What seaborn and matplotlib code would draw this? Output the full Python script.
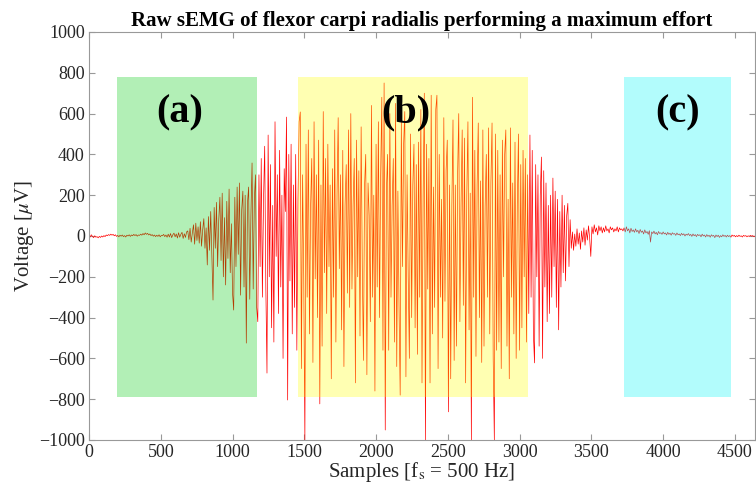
import numpy as np
import matplotlib
matplotlib.use("Agg")
import matplotlib.pyplot as plt
from matplotlib.patches import Rectangle
import seaborn as sns

# ---- signal (one value every 8 samples) ----
step = 8
rest_start = [3, -5, 6, -2, -8, 1, -6, -3, -9, -2,
              -7, 0, -5, 2, -3, 5, 1, 7, 3, 9,
              4, 8, 1, 6, -2, 3, -4, 4, -1, 5,
              -3, 2, -5, 4, 0, 6, -2, 5, 1, 8,
              2, 7, -1, 5, 3, 9, 4, 12, 6, 15,
              8, 13, 5, 10, 2, 7, -1, 5, -3, 4,
              -2, 6, -4, 3, 1, 8, -3, 5, -6, 9,
              -5, 12, -8, 6, 14, -4, 10, -10, 16, -6,
              8, 18, -12, 11, -7, 20]
onset = [25, -18, 38, -30, 15, 55, -40, 63, -22, 45,
         -35, 70, -50, 30, 85, -60, 40, -142, 95, -70,
         120, -90, -314, 140, -60, 165, -150, 80, 190, -120,
         210, -200, 90, -240, 170, -110, 230, -180, 60, -280,
         -363, 190, -150, 240, -90, 260, -290, 130, 220, -250,
         200, -525, 160, 240, -310, 100, 358, -260, 180, 300, -350]
burst = [-420, 300, -150, 380, -300, 180, 440, -250, -672, 495,
         -200, 350, -450, 150, -520, 560, -100, 300, -380, 420,
         -250, 200, -600, 330, 120, 583, -804, 400, -220, 450,
         -480, 250, -350, 400, -560, 180, 560, 608, -650, 300,
         -200, -1000, 450, -300, 520, -480, 150, 380, -620, 560,
         -210, 300, -400, 470, -823, 250, -540, 610, -180, 380,
         -380, 450, -150, 250, -700, 330, -300, 520, -520, 200,
         580, -160, 300, -460, 420, -640, 150, 350, -280, 520,
         -350, 600, -260, 150, 380, -720, 470, -200, 320, -490,
         535, -150, -610, 250, 400, -680, 260, 100, -420, 640,
         -300, 200, -760, 450, -250, 560, -400, 300, 680, -560,
         750, -951, 220, 400, -560, 600, -300, 150, 380, -520,
         650, -640, 220, -350, -780, 560, -150, 450, 610, -690,
         300, -200, -600, 500, -400, 250, 450, -450, 350, -580,
         460, -300, 620, -720, 200, 700, -1000, 450, -260, 380,
         -720, 690, -480, 240, -350, 620, 690, -650, 400, -300,
         180, -500, 580, -320, 320, 470, -862, 250, -700, 150,
         569, -610, 250, -540, 300, 600, -420, 150, 520, -340,
         480, -720, 200, 560, -460, 210, -1000, 680, -300, 420,
         -590, 250, 554, -400, 270, -620, 520, -540, 150, 400,
         -300, 530, -480, 260, 554, -600, -1000, 500, -560, 420,
         -520, 300, -650, 470, -200, 400, 520, -540, 180, -700,
         530, -300, 260, -480, 460, -600, 150, 500, -560, 350,
         -450, 420, -200, 380, -520, 300]
decay = [-380, 495, -300, 420, -480, -622, 350, -200, 300, -540,
         200, 387, -600, 320, -250, 260, -420, 150, -380, 200,
         -300, 284, -150, 220, -350, 180, -460, 120, -250, 200,
         -180, 150, -220, 100, 160, -150, 80,
         -60, 20, -70, 10, -50, 35, -40, 15, -65, 25,
         -30, 40, -45, 30, -20, 50, -10, -100,
         45, 10, 55, 20, 40, 5, 50, 25, 45, 15,
         40, 20, 50, 25, 35, 15, 45, 30, 40, 20,
         35, 25, 45, 20, 40, 30, 35, 25]
rest_end = [40, 20, 45, 25, 35, 15, 38, 22, 30, 18,
            35, 20, 28, 12, 32, 18, 25, 10, 30, 15,
            22, 8, 26, -30, 20, 12, 24, 10, 18, 6,
            22, 12, 16, 8, 20, 10, 15, 5, 18, 8,
            14, 4, 16, 9, 12, 3, 15, 6, 10, 2,
            13, 5, 11, 0, 9, 4, 12, 2, 8, -2,
            10, 1, 7, -3, 8, 2, 6, -4, 9, 0,
            5, -5, 7, -2, 4, -6, 6, -1, 3, -8,
            5, -3, 4, -7, 2, -4, 6, -2, 3, -5,
            4, -3, 2, -6, 5, -1, 3, -4, 2, -3,
            4, -2, 1, -5, 3, -1, 2, -4, 1, -2,
            3, -1, 2, -3, 0]

voltage = np.array(rest_start + onset + burst + decay + rest_end, dtype=float)
samples = np.arange(len(voltage)) * step

# ---- highlighted windows ----
region_labels = ["(a)", "(b)", "(c)"]
region_start = [195, 1458, 3730]
region_end = [1168, 3057, 4472]
region_low = [-790, -790, -790]
region_high = [780, 780, 780]
region_colors = [(0.0, 0.8, 0.05), (1.0, 1.0, 0.0), (0.0, 0.97, 0.97)]
label_x = [630, 2210, 4100]
label_y = [605, 605, 605]

sns.set_style("white")
plt.rcParams["font.family"] = ["Liberation Serif", "DejaVu Serif"]
plt.rcParams["mathtext.fontset"] = "stix"

fig = plt.figure(figsize=(7.56, 4.97), dpi=100)
ax = fig.add_axes([89 / 756, 57 / 497, 666 / 756, 408 / 497])

sns.lineplot(x=samples, y=voltage, color="red", linewidth=0.5,
             estimator=None, ax=ax, zorder=1)

for x0, x1, lo, hi, c in zip(region_start, region_end, region_low,
                             region_high, region_colors):
    ax.add_patch(Rectangle((x0, lo), x1 - x0, hi - lo, facecolor=c,
                           edgecolor="none", alpha=0.3, zorder=2))

for lab, x, y in zip(region_labels, label_x, label_y):
    ax.text(x, y, lab, ha="center", va="center", fontsize=29,
            fontweight="bold", color="black", zorder=3)

ax.set_xlim(0, 4640)
ax.set_ylim(-1000, 1000)
ax.set_xticks(range(0, 4501, 500))
ax.set_yticks(range(-1000, 1001, 200))
ax.tick_params(direction="in", length=4, width=0.8, color="#999999",
               labelsize=13, labelcolor="#262626", top=True, right=True,
               bottom=True, left=True, pad=3)
for s in ax.spines.values():
    s.set_color("#999999")
    s.set_linewidth(0.8)

ax.set_xlabel("Samples [f$_\\mathrm{s}$ = 500 Hz]", fontsize=15,
              color="#262626", labelpad=-1)
ax.set_ylabel("Voltage [$\\mu$V]", fontsize=15, color="#262626",
              labelpad=2)
ax.set_title("Raw sEMG of flexor carpi radialis performing a maximum effort",
             fontsize=15, fontweight="bold", color="black", pad=4)

fig.savefig("out.png", dpi=100)
